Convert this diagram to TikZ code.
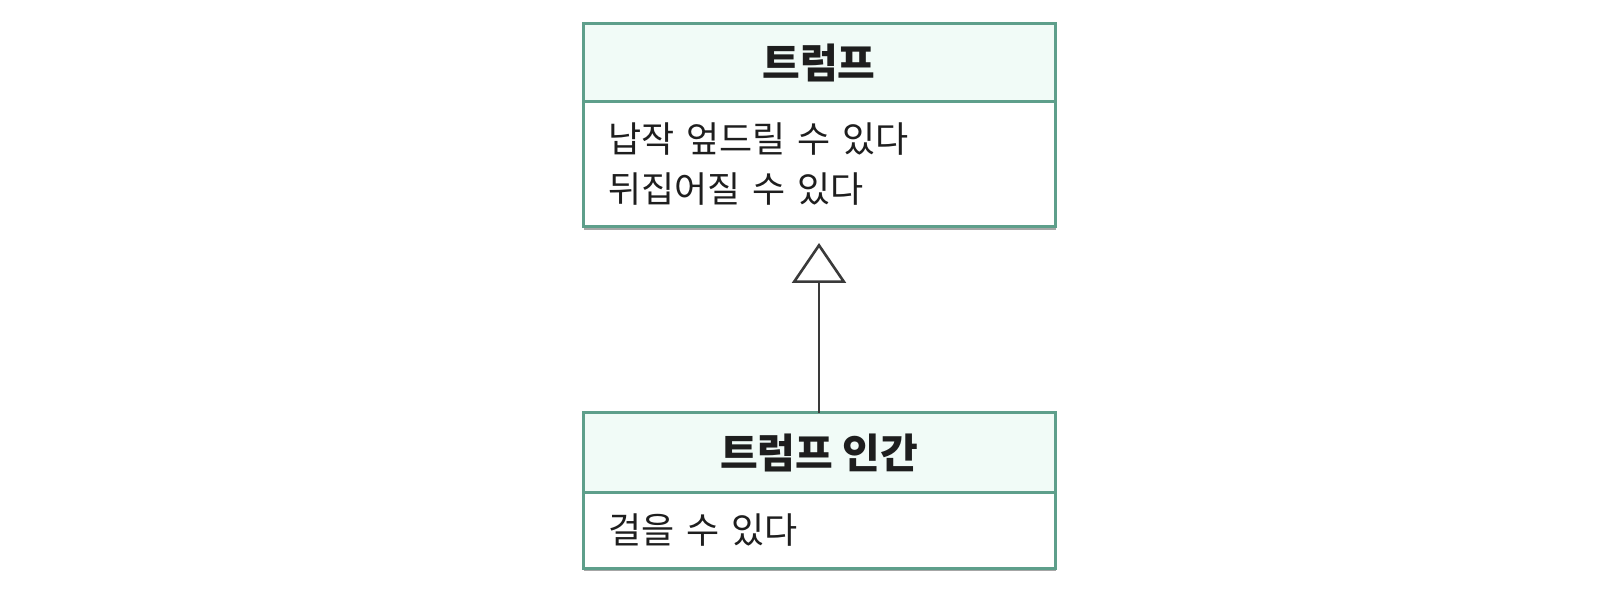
\documentclass[tikz,border=0pt]{standalone}
\usepackage{fontspec}
\newfontfamily\kofont{Noto Sans CJK KR}
\usetikzlibrary{positioning,arrows.meta,shadows}
\definecolor{umlborder}{HTML}{5E9F8B}
\definecolor{umlhead}{HTML}{F1FBF7}
\definecolor{umlarrow}{HTML}{3A3A3A}
\definecolor{umltext}{HTML}{1E1E1E}
\tikzset{
  classbox/.style={draw=umlborder, line width=1.5pt, minimum width=236pt,
    outer sep=0pt, text=umltext},
  classtitle/.style={classbox, fill=umlhead, inner sep=0pt,
    font=\kofont\bfseries\fontsize{20.5}{24}\selectfont},
  classops/.style={classbox, fill=white, inner xsep=12.5pt, inner ysep=0pt,
    text width=211pt, align=left, font=\kofont\fontsize{18}{25}\selectfont,
    drop shadow={shadow xshift=0.6pt, shadow yshift=-1.4pt, fill=black, opacity=0.35}},
  inherit/.style={-{Triangle[open, length=20pt, width=27pt]}, line width=1.3pt,
    draw=umlarrow, shorten >=8pt}
}
\begin{document}
\begin{tikzpicture}[x=0.5pt,y=0.5pt]
  \useasboundingbox (0,0) rectangle (1622,600);

  % Klasse oben
  \node[classtitle, minimum height=39pt] (trump) at (819,537) {트럼프};
  \node[classops, minimum height=62.5pt, below=0pt of trump] (trumpOps)
    {납작 엎드릴 수 있다\\뒤집어질 수 있다};

  % Klasse unten
  \node[classtitle, minimum height=39.5pt] (human) at (819,147.5) {트럼프 인간};
  \node[classops, minimum height=38pt, below=0pt of human] (humanOps)
    {걸을 수 있다};

  % Vererbung
  \draw[inherit] (human.north) -- (trumpOps.south);
\end{tikzpicture}
\end{document}
